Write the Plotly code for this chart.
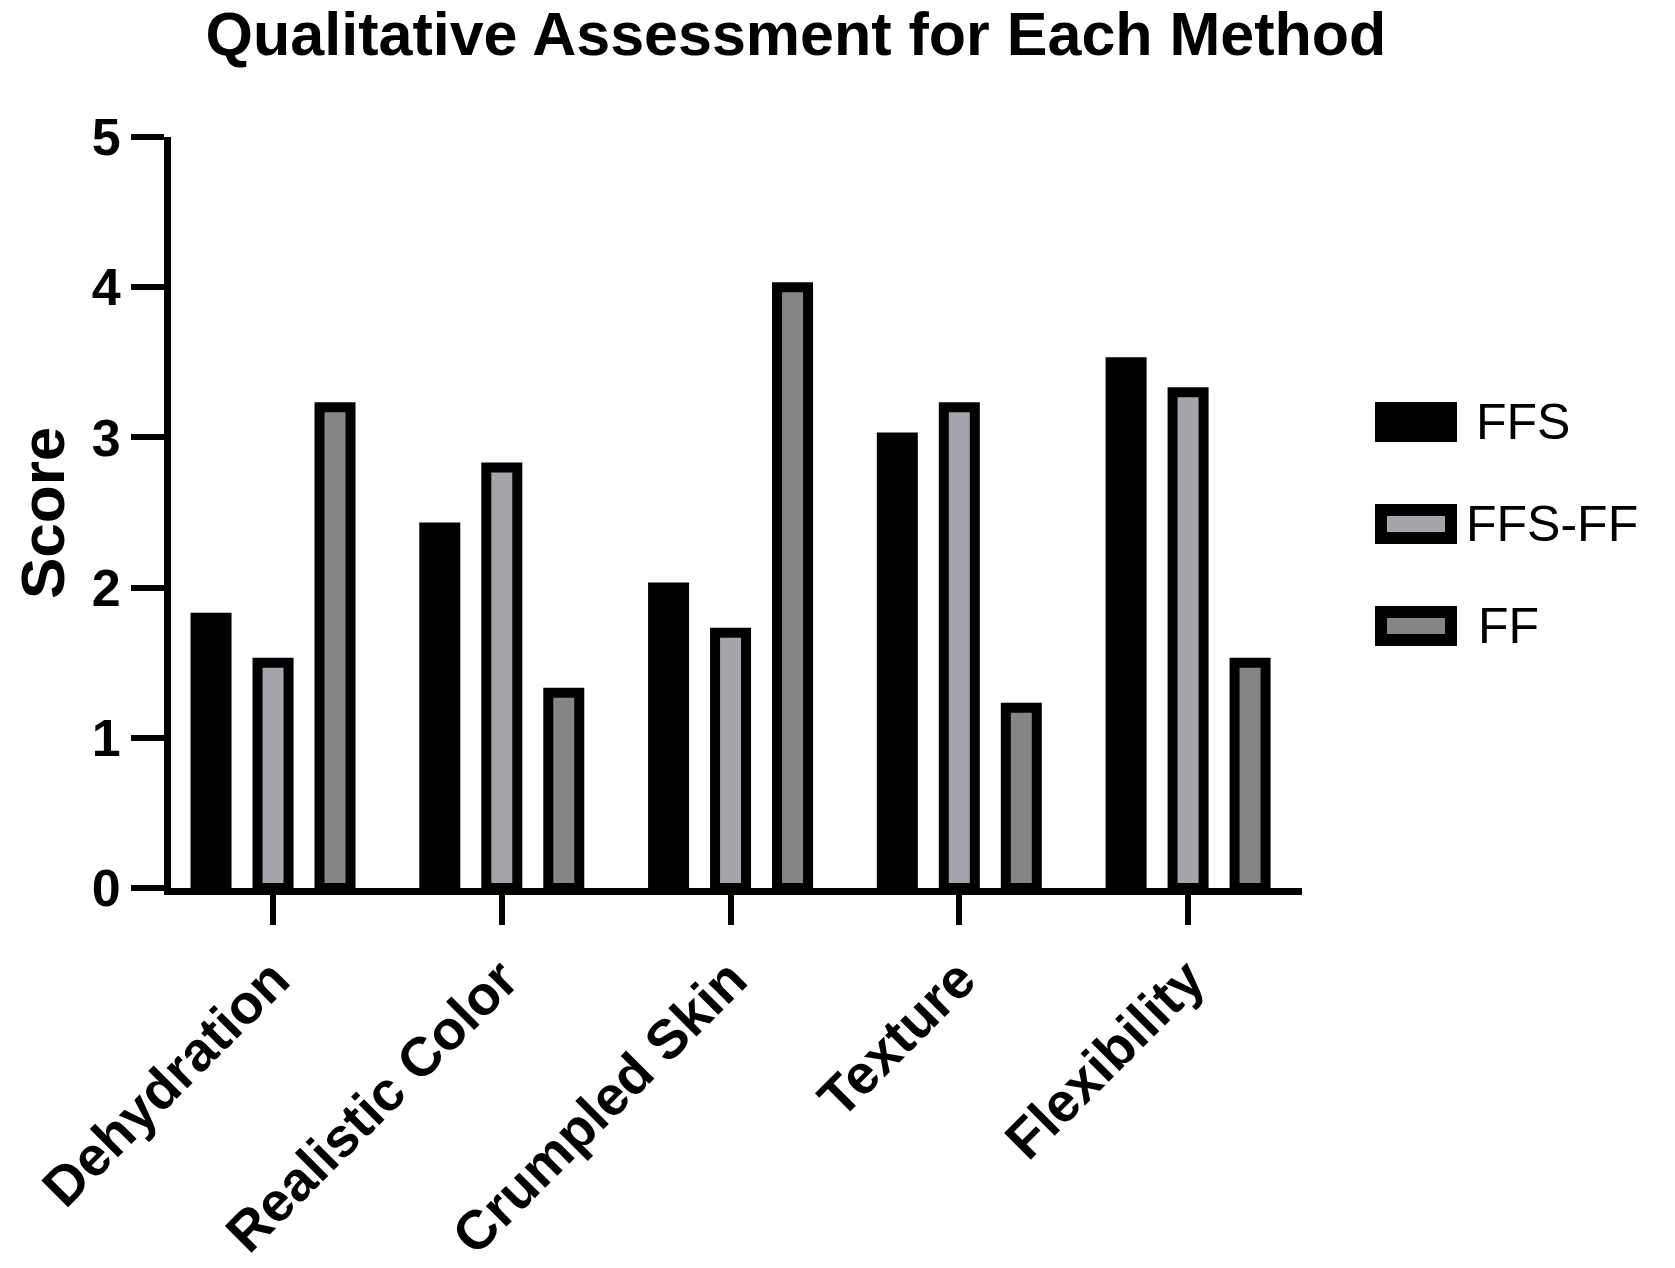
import plotly.graph_objects as go

categories = ["Dehydration", "Realistic Color", "Crumpled Skin", "Texture", "Flexibility"]
series_names = ["FFS", "FFS-FF", "FF"]
ffs = [1.8, 2.4, 2.0, 3.0, 3.5]
ffs_ff = [1.5, 2.8, 1.7, 3.2, 3.3]
ff = [3.2, 1.3, 4.0, 1.2, 1.5]
colors = ["#000000", "#a4a4ab", "#858585"]
y_ticks = [0, 1, 2, 3, 4, 5]

W, H = 1675, 1268
L, R, T, B = 171, 373, 137, 380
PW = W - L - R
PH = H - T - B

FONT = "Liberation Sans, Arial, Helvetica, sans-serif"

fig = go.Figure()
for name, vals, col in zip(series_names, [ffs, ffs_ff, ff], colors):
    fig.add_trace(go.Bar(
        x=categories, y=vals, name=name,
        marker=dict(color=col, line=dict(color="black", width=10)),
        showlegend=False,
    ))

def px_x(px):
    return (px - L) / PW

def px_y(py):
    return (H - B - py) / PH

# manual legend
leg_centers = [422, 524, 626]
leg_text_x = [1474, 1464, 1476]
for name, col, cy, tx in zip(series_names, colors, leg_centers, leg_text_x):
    fig.add_shape(type="rect", xref="paper", yref="paper",
                  x0=px_x(1381), x1=px_x(1451), y0=px_y(cy + 14), y1=px_y(cy - 14),
                  fillcolor=col, line=dict(color="black", width=12))
    fig.add_annotation(text=name, xref="paper", yref="paper",
                       x=px_x(tx), y=px_y(cy), xanchor="left", yanchor="middle",
                       showarrow=False, font=dict(family=FONT, size=50, color="black"))

# y-axis title
fig.add_annotation(text="<b>Score</b>", xref="paper", yref="paper",
                   x=px_x(42), y=px_y(513), xanchor="center", yanchor="middle",
                   textangle=-90, showarrow=False,
                   font=dict(family=FONT, size=62, color="black"))

fig.update_layout(
    width=W, height=H,
    margin=dict(l=L, r=R, t=T, b=B, pad=0),
    paper_bgcolor="white", plot_bgcolor="white",
    barmode="group", bargap=0.187, bargroupgap=0.5,
    title=dict(text="<b>Qualitative Assessment for Each Method</b>",
               x=796 / W, xref="container", xanchor="center",
               y=1 - 34 / H, yref="container", yanchor="middle",
               font=dict(family=FONT, size=61, color="black")),
    xaxis=dict(range=[-0.446, 4.498], showline=True, linecolor="black", linewidth=7,
               ticks="outside", ticklen=30, tickwidth=6, tickcolor="black",
               tickangle=-45, showgrid=False, zeroline=False, automargin=False,
               tickfont=dict(family=FONT, size=55, color="black", weight="bold")),
    yaxis=dict(range=[0, 5], tickvals=y_ticks, showline=True, linecolor="black", linewidth=7,
               ticks="outside", ticklen=33, tickwidth=6, tickcolor="black",
               showgrid=False, zeroline=False, automargin=False,
               tickfont=dict(family=FONT, size=52, color="black", weight="bold")),
)

fig.write_html("out.html", config={"displayModeBar": False},
               post_script="document.body.style.margin='0';document.body.style.overflow='hidden';")
